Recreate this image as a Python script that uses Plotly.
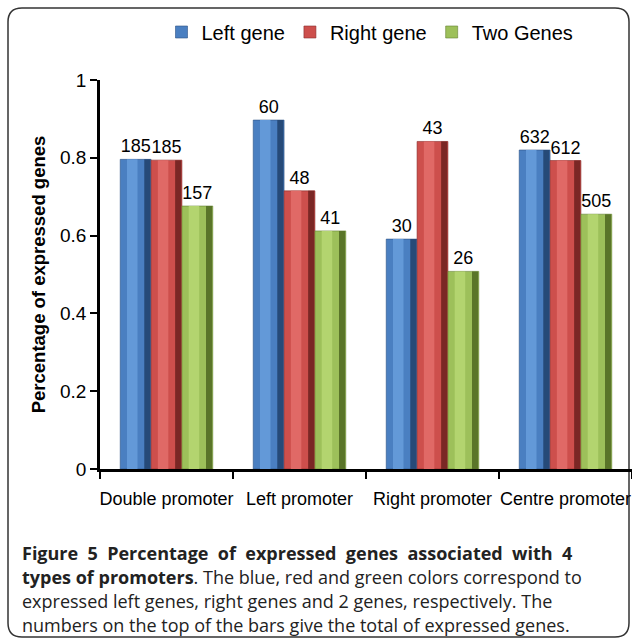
import plotly.graph_objects as go

# ---- data ----
categories = ["Double promoter", "Left promoter", "Right promoter", "Centre promoter"]
series_names = ["Left gene", "Right gene", "Two Genes"]
left_gene = [0.796, 0.897, 0.591, 0.820]
right_gene = [0.794, 0.715, 0.842, 0.793]
two_genes = [0.676, 0.612, 0.508, 0.655]
left_counts = [185, 60, 30, 632]
right_counts = [185, 48, 43, 612]
two_counts = [157, 41, 26, 505]
y_ticks = [0, 0.2, 0.4, 0.6, 0.8, 1]
y_tick_text = ["0", "0.2", "0.4", "0.6", "0.8", "1"]

NB = "\u00a0"
line1_words = ["Figure", "5", "Percentage", "of", "expressed", "genes", "associated", "with", "4"]
caption_lines = [
    "<b>" + (" " + NB).join(line1_words) + "</b>",
    "<b>types of promoters</b>. The blue, red and green colors correspond to",
    "expressed left genes, right genes and 2 genes, respectively. The",
    "numbers on the top of the bars give the total of expressed genes.",
]

# ---- styling ----
W, H = 632, 640
L, R, T, B = 100, 0, 80, 171
PW, PH = W - L - R, H - T - B

base_cols = ["#4a7fc1", "#cd4f4c", "#9dc05a"]
light_cols = ["#6399d8", "#e06966", "#b3d46f"]
dark_cols = ["#264a78", "#7a2725", "#5a7529"]
edge_cols = ["#2d5284", "#862d2b", "#637f30"]

bar_w = 0.232
offsets = [-0.348, -0.116, 0.116]

series_vals = [left_gene, right_gene, two_genes]
series_counts = [left_counts, right_counts, two_counts]

AX_FONT = "Liberation Sans, Arial, sans-serif"

fig = go.Figure()
for i in range(3):
    vals = series_vals[i]
    fig.add_trace(go.Bar(
        x=categories, y=vals, name=series_names[i],
        width=bar_w, offset=offsets[i],
        marker=dict(color=base_cols[i], line=dict(color=edge_cols[i], width=0.6)),
        text=[str(c) for c in series_counts[i]], textposition="outside",
        textfont=dict(family=AX_FONT, size=18, color="black"),
        cliponaxis=False, showlegend=True, legendgroup=series_names[i],
    ))
    fig.add_trace(go.Bar(
        x=categories, y=vals, width=bar_w * 0.34, offset=offsets[i] + bar_w * 0.22,
        marker=dict(color=light_cols[i], line=dict(width=0)),
        showlegend=False, hoverinfo="skip", legendgroup=series_names[i],
    ))
    fig.add_trace(go.Bar(
        x=categories, y=vals, width=bar_w * 0.2, offset=offsets[i] + bar_w * 0.78,
        marker=dict(color=dark_cols[i], line=dict(width=0)),
        showlegend=False, hoverinfo="skip", legendgroup=series_names[i],
    ))


def px_x(v):
    return (v - L) / PW


def px_y(v):
    return (H - B - v) / PH


line_px = [553, 577, 601, 625]
for txt, py in zip(caption_lines, line_px):
    fig.add_annotation(
        text=txt, xref="paper", yref="paper",
        x=px_x(20), y=px_y(py),
        xanchor="left", yanchor="middle", showarrow=False, align="left",
        font=dict(family="Open Sans, Noto Sans, sans-serif", size=18, color="#222"),
    )

x0, x1, y0, y1, r = 8, 629, 8, 637, 14
rx, ry = r / PW, r / PH
path = (
    f"M {px_x(x0)+rx},{px_y(y0)} L {px_x(x1)-rx},{px_y(y0)} "
    f"Q {px_x(x1)},{px_y(y0)} {px_x(x1)},{px_y(y0)-ry} "
    f"L {px_x(x1)},{px_y(y1)+ry} Q {px_x(x1)},{px_y(y1)} {px_x(x1)-rx},{px_y(y1)} "
    f"L {px_x(x0)+rx},{px_y(y1)} Q {px_x(x0)},{px_y(y1)} {px_x(x0)},{px_y(y1)+ry} "
    f"L {px_x(x0)},{px_y(y0)-ry} Q {px_x(x0)},{px_y(y0)} {px_x(x0)+rx},{px_y(y0)} Z"
)
fig.add_shape(type="path", path=path, xref="paper", yref="paper",
              line=dict(color="#333", width=1.5), layer="below")

fig.update_layout(
    template="none",
    width=W, height=H, autosize=False,
    margin=dict(l=L, r=R, t=T, b=B, pad=0),
    paper_bgcolor="white", plot_bgcolor="white",
    barmode="overlay",
    font=dict(family=AX_FONT, color="black"),
    legend=dict(
        orientation="h", x=px_x(370), xanchor="center", y=px_y(32), yanchor="middle",
        font=dict(family=AX_FONT, size=20, color="black"),
        itemwidth=30, tracegroupgap=0, bgcolor="rgba(0,0,0,0)",
    ),
    showlegend=True,
)
fig.update_xaxes(
    type="category", range=[-0.5, 3.5], tickson="boundaries",
    ticks="outside", ticklen=7, tickwidth=2, tickcolor="black",
    showline=True, linecolor="black", linewidth=2.5,
    showgrid=False, zeroline=False, tickangle=0, automargin=False,
    tickfont=dict(family=AX_FONT, size=18, color="black"),
    ticklabelstandoff=12,
)
fig.update_yaxes(
    range=[0, 1], tickvals=y_ticks, ticktext=y_tick_text,
    ticks="outside", ticklen=7, tickwidth=2, tickcolor="black",
    showline=True, linecolor="black", linewidth=2.5,
    showgrid=False, zeroline=False,
    tickfont=dict(family=AX_FONT, size=19, color="black"),
    title=dict(text="<b>Percentage of expressed genes</b>", standoff=10,
               font=dict(family=AX_FONT, size=18.5, color="black")),
    automargin=False,
)

fig.write_html(
    "out.html",
    config={"displayModeBar": False},
    post_script="document.body.style.margin='0';document.body.style.overflow='hidden';",
)
